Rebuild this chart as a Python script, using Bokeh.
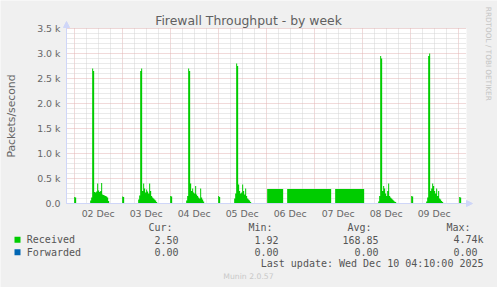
import numpy as np
import pandas as pd
from math import pi
from bokeh.plotting import figure
from bokeh.models import (Range1d, FixedTicker, DatetimeTickFormatter, Label, Grid,
                          BoxAnnotation, Arrow, NormalHead, ColumnDataSource)
from bokeh.embed import file_html
from bokeh.resources import INLINE

# ---------------- data ----------------
range_start = "2025-12-01 20:10"
range_end = "2025-12-10 04:10"
sample_start = "2025-12-01 20:00"
sample_end = "2025-12-10 04:30"
baseline_rate = 2.0

# daily bursts, 30-minute averages starting at the given time
burst_starts = ["2025-12-02 08:00", "2025-12-03 08:00", "2025-12-04 08:00",
                "2025-12-05 08:00", "2025-12-08 08:00", "2025-12-09 08:00"]
burst_dec02 = [60, 120, 2700, 2650, 230, 220, 240, 400, 260, 230, 250, 410, 180, 170, 160, 150, 140, 120, 50]
burst_dec03 = [80, 160, 2650, 2700, 250, 400, 300, 220, 280, 240, 200, 400, 250, 150, 120, 100, 80, 60, 30]
burst_dec04 = [60, 150, 2700, 2650, 400, 250, 300, 220, 200, 350, 180, 150, 120, 100, 300, 120, 80, 40]
burst_dec05 = [100, 200, 2800, 2750, 380, 250, 200, 220, 380, 250, 180, 300, 150, 100, 80, 60, 30]
burst_dec08 = [40, 150, 2950, 2900, 250, 350, 300, 200, 150, 250, 400, 150, 120, 100, 80, 60, 40, 30]
burst_dec09 = [40, 120, 2950, 3000, 250, 300, 400, 350, 250, 200, 300, 150, 250, 100, 80, 50, 30]
burst_values = [burst_dec02, burst_dec03, burst_dec04, burst_dec05, burst_dec08, burst_dec09]

# small bumps right after midnight
night_starts = ["2025-12-02 00:00", "2025-12-03 00:00", "2025-12-04 00:00",
                "2025-12-05 00:00", "2025-12-09 00:30", "2025-12-10 00:30"]
night_values = [[130, 120], [140, 130], [150, 140], [150, 130], [150, 140], [130, 120]]

# flat traffic over the weekend
plateau_starts = ["2025-12-06 00:30", "2025-12-06 10:30", "2025-12-07 10:30"]
plateau_ends = ["2025-12-06 08:30", "2025-12-07 08:30", "2025-12-08 01:00"]
plateau_levels = [290, 290, 290]

y_ticks = [0, 500, 1000, 1500, 2000, 2500, 3000, 3500]
y_tick_labels = ["0.0", "0.5 k", "1.0 k", "1.5 k", "2.0 k", "2.5 k", "3.0 k", "3.5 k"]
y_max = 3500
day_midnights = ["2025-12-02", "2025-12-03", "2025-12-04", "2025-12-05",
                 "2025-12-06", "2025-12-07", "2025-12-08", "2025-12-09", "2025-12-10"]

legend_names = ["Received", "Forwarded"]
legend_colors = ["#00CC00", "#0066B3"]
legend_cur = ["2.50", "0.00"]
legend_min = ["1.92", "0.00"]
legend_avg = ["168.85", "0.00"]
legend_max = ["4.74k", "0.00"]

# ---------------- series ----------------
times = pd.date_range(sample_start, sample_end, freq="30min")
received = np.full(len(times), baseline_rate)
for start, vals in zip(burst_starts, burst_values):
    i = times.get_loc(pd.Timestamp(start))
    received[i:i + len(vals)] = vals
for start, vals in zip(night_starts, night_values):
    i = times.get_loc(pd.Timestamp(start))
    received[i:i + len(vals)] = vals
for s, e, lv in zip(plateau_starts, plateau_ends, plateau_levels):
    mask = (times >= pd.Timestamp(s)) & (times < pd.Timestamp(e))
    received[mask] = lv

t_plot = pd.Series(times).clip(lower=pd.Timestamp(range_start), upper=pd.Timestamp(range_end))
src = ColumnDataSource(dict(t=t_plot, rx=received, zero=np.zeros(len(times))))

def ms(s):
    return pd.Timestamp(s).value / 1e6

x0, x1 = ms(range_start), ms(range_end)
midnights = [ms(d) for d in day_midnights]
noons = [m + 12 * 3600e3 for m in midnights[:-1]]
six_hours = []
for m in [ms("2025-12-01")] + midnights:
    for h in (6, 12, 18):
        v = m + h * 3600e3
        if x0 < v < x1:
            six_hours.append(v)
y_minor = [v for v in range(100, y_max, 100) if v % 500]

# ---------------- canvas geometry ----------------
W, H = 497, 287
AREA_L, AREA_R, AREA_T, AREA_B = 66, 466, 28, 203   # plot area in canvas pixels
ms_per_px = (x1 - x0) / (AREA_R - AREA_L)
u_per_px = y_max / (AREA_B - AREA_T)

FONT = "#666666"
AXIS = "#CFD6F8"
MAJOR = "#E2B4B4"
MINOR = "#D4D4D4"

p = figure(width=W, height=H, x_axis_type="datetime",
           x_range=Range1d(x0 - AREA_L * ms_per_px, x1 + (W - AREA_R) * ms_per_px),
           y_range=Range1d(-(H - AREA_B) * u_per_px, y_max + AREA_T * u_per_px),
           output_backend="svg", toolbar_location=None,
           min_border_left=0, min_border_right=0, min_border_top=0, min_border_bottom=0,
           background_fill_color="#F0F0F0", border_fill_color="#F0F0F0",
           outline_line_color=None)

# white canvas of the graph
p.add_layout(BoxAnnotation(left=x0, right=x1, bottom=0, top=y_max, fill_color="#FFFFFF",
                           fill_alpha=1.0, line_color=None, level="image"))

# grids
if "cross_bounds" in Grid.properties():
    p.xgrid.ticker = FixedTicker(ticks=midnights, minor_ticks=six_hours)
    p.ygrid.ticker = FixedTicker(ticks=y_ticks[1:], minor_ticks=y_minor)
    p.xgrid.bounds = (x0, x1)
    p.xgrid.cross_bounds = (0, y_max)
    p.ygrid.bounds = (0, y_max)
    p.ygrid.cross_bounds = (x0, x1)
    for g in (p.xgrid, p.ygrid):
        g.grid_line_color = MAJOR
        g.grid_line_dash = "1 1"
        g.minor_grid_line_color = MINOR
        g.minor_grid_line_dash = "1 1"
else:
    p.xgrid.visible = False
    p.ygrid.visible = False
    p.segment(x0=six_hours, x1=six_hours, y0=0, y1=y_max, line_color=MINOR, line_dash="1 1")
    p.segment(x0=x0, x1=x1, y0=y_minor, y1=y_minor, line_color=MINOR, line_dash="1 1")
    p.segment(x0=midnights, x1=midnights, y0=0, y1=y_max, line_color=MAJOR, line_dash="1 1")
    p.segment(x0=x0, x1=x1, y0=y_ticks[1:], y1=y_ticks[1:], line_color=MAJOR, line_dash="1 1")

p.varea_step(x="t", y1="zero", y2="rx", step_mode="after", source=src, fill_color="#00CC00")

# axes, fixed to the plot-area edges
p.xaxis.fixed_location = 0
p.xaxis.bounds = (x0, x1)
p.yaxis.fixed_location = x0
p.yaxis.bounds = (0, y_max)
p.xaxis.ticker = FixedTicker(ticks=noons)
p.xaxis.formatter = DatetimeTickFormatter(days="%d %b", hours="%d %b", months="%d %b",
                                          minutes="%d %b", hourmin="%d %b")
p.yaxis.ticker = FixedTicker(ticks=y_ticks)
p.yaxis.major_label_overrides = {v: l for v, l in zip(y_ticks, y_tick_labels)}
p.yaxis.axis_label = "Packets/second"
p.yaxis.axis_label_text_font = "DejaVu Sans"
p.yaxis.axis_label_text_font_size = "10.8px"
p.yaxis.axis_label_text_font_style = "normal"
p.yaxis.axis_label_text_color = FONT
p.yaxis.axis_label_standoff = 16
for ax in (p.xaxis, p.yaxis):
    ax.axis_line_color = AXIS
    ax.major_tick_line_color = None
    ax.minor_tick_line_color = None
    ax.major_tick_out = 0
    ax.major_tick_in = 0
    ax.major_label_text_font = "DejaVu Sans"
    ax.major_label_text_font_size = "9.4px"
    ax.major_label_text_color = FONT
p.yaxis.major_label_standoff = 6
p.xaxis.major_label_standoff = 4

# axis arrows (screen units, canvas origin bottom-left)
p.add_layout(Arrow(x_start=AREA_L, y_start=H - AREA_B, x_end=AREA_R + 6, y_end=H - AREA_B,
                   start_units="screen", end_units="screen",
                   line_color=AXIS, line_width=1,
                   end=NormalHead(size=6, fill_color=AXIS, line_color=AXIS)))
p.add_layout(Arrow(x_start=AREA_L, y_start=H - AREA_B, x_end=AREA_L, y_end=H - 21,
                   start_units="screen", end_units="screen",
                   line_color=AXIS, line_width=1,
                   end=NormalHead(size=6, fill_color=AXIS, line_color=AXIS)))

def lab(text, cx, cy, align="left", size="10px", font="DejaVu Sans Mono", color="#555555",
        angle=0.0, baseline="middle"):
    p.add_layout(Label(x=cx, y=H - cy, x_units="screen", y_units="screen",
                       text=text, text_align=align, text_baseline=baseline,
                       text_font=font, text_font_size=size, text_color=color,
                       angle=angle))

lab("Firewall Throughput - by week", 248, 19.5, align="center", size="12.4px",
    font="DejaVu Sans", color="#606060")
lab("RRDTOOL / TOBI OETIKER", 487.7, 53.3, align="center", size="7.3px",
    font="DejaVu Sans", color="#C4C4C4", angle=-pi / 2)

# legend
lab("Cur:", 172, 227.3, align="right")
lab("Min:", 272, 227.3, align="right")
lab("Avg:", 371, 227.3, align="right")
lab("Max:", 470, 227.3, align="right")
row_y = [239.3, 251.7]
cur_r = [178, 178]
min_r = [278, 278]
avg_r = [378, 378]
max_r = [483, 477]
for k in range(2):
    cy = row_y[k]
    p.add_layout(BoxAnnotation(left=14, right=20, top=H - (cy - 3), bottom=H - (cy + 3),
                               left_units="screen", right_units="screen",
                               top_units="screen", bottom_units="screen",
                               fill_color=legend_colors[k], fill_alpha=1.0, line_color=None))
    lab(legend_names[k], 26.3, cy)
    lab(legend_cur[k], cur_r[k], cy, align="right")
    lab(legend_min[k], min_r[k], cy, align="right")
    lab(legend_avg[k], avg_r[k], cy, align="right")
    lab(legend_max[k], max_r[k], cy, align="right")
lab("Last update: Wed Dec 10 04:10:00 2025", 483, 263.3, align="right")
lab("Munin 2.0.57", 248, 276, align="center", size="7.7px", font="DejaVu Sans", color="#C8C8C8")

open("out.html", "w").write(file_html(p, INLINE))
